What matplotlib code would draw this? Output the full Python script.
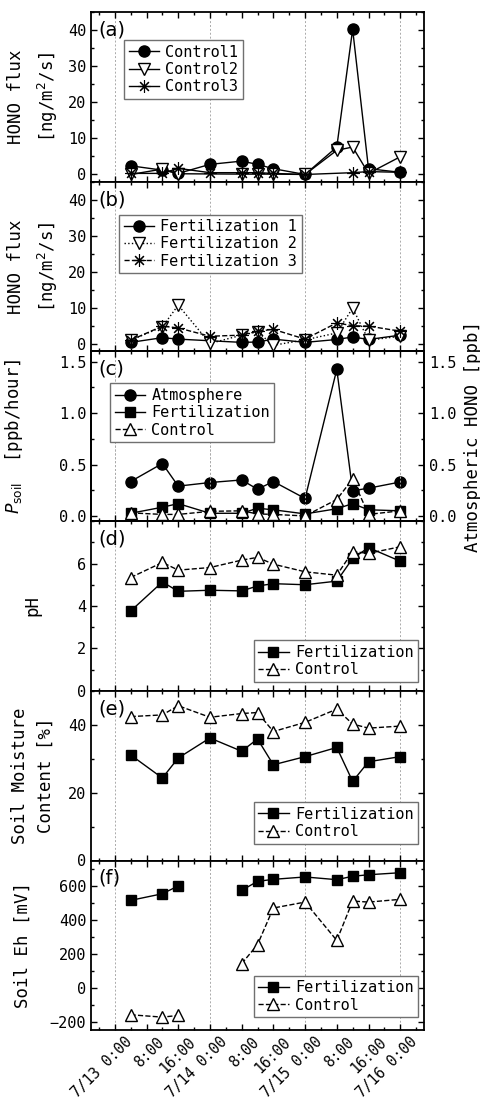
import numpy as np
import matplotlib
matplotlib.use("Agg")
import matplotlib.pyplot as plt
from matplotlib.ticker import MultipleLocator, FormatStrFormatter
from matplotlib.transforms import ScaledTranslation

plt.rcParams['font.family'] = ['DejaVu Sans Mono', 'DejaVu Sans']
plt.rcParams['mathtext.fontset'] = 'dejavusans'

# sampling times, hours after 7/13 0:00
hours = [4, 12, 16, 24, 32, 36, 40, 48, 56, 60, 64, 72]
nan = np.nan

# (a) control chambers, HONO flux [ng/m2/s]
control1 = [2.4, 1.2, 0.3, 2.8, 3.7, 2.8, 1.6, 0.0, 7.6, 40.2, 1.6, 0.6]
control2 = [0.0, 1.5, 0.2, nan, 0.1, 0.1, 0.1, 0.0, 6.7, 7.6, 0.3, 4.9]
control3 = [0.3, 0.3, 1.7, 0.5, 0.5, 0.5, 0.3, 0.0, nan, 0.5, 0.8, 0.6]

# (b) fertilized chambers
fert1 = [0.5, 1.8, 1.4, nan, 0.5, 0.6, 1.4, 0.5, 1.3, 2.0, 1.3, 2.5]
fert2 = [1.1, 4.8, 10.8, 0.2, 2.5, 3.4, -0.3, 1.2, 3.1, 10.0, 1.1, 2.2]
fert3 = [1.1, 5.0, 4.5, 2.2, 2.5, 3.6, 4.1, 1.4, 5.9, 5.1, 5.0, 3.6]

# (c) P_soil [ppb/hour] and atmospheric HONO [ppb]
atmos = [0.335, 0.51, 0.29, 0.325, 0.35, 0.26, 0.335, 0.17, 1.425, 0.245, 0.27, 0.33]
psoil_fert = [0.026, 0.085, 0.12, 0.026, 0.026, 0.075, 0.06, 0.02, 0.07, 0.12, 0.06, 0.05]
psoil_ctrl = [0.03, 0.015, 0.015, 0.045, 0.05, 0.02, 0.015, 0.0, 0.16, 0.36, 0.015, 0.05]

# (d) pH
ph_fert = [3.76, 5.13, 4.69, 4.74, 4.71, 4.94, 5.05, 5.0, 5.17, 6.24, 6.75, 6.11]
ph_ctrl = [5.34, 6.05, 5.69, 5.81, 6.16, 6.29, 5.97, 5.61, 5.45, 6.56, 6.48, 6.79]

# (e) soil moisture [%]
sm_fert = [31.1, 24.3, 30.2, 36.1, 32.2, 35.8, 28.2, 30.6, 33.3, 23.3, 29.1, 30.6]
sm_ctrl = [42.4, 42.9, 45.6, 42.2, 43.3, 43.6, 38.0, 40.7, 44.6, 40.2, 39.0, 39.6]

# (f) soil Eh [mV]
eh_fert = [515, 554, 600, nan, 574, 627, 639, 653, 637, 657, 666, 678]
eh_ctrl = [-159, -173, -163, nan, 142, 254, 470, 505, 279, 511, 505, 521]

xtick_pos = [0, 8, 16, 24, 32, 40, 48, 56, 64, 72]
xtick_lab = ['7/13 0:00', '8:00', '16:00', '7/14 0:00', '8:00', '16:00',
             '7/15 0:00', '8:00', '16:00', '7/16 0:00']

asterisk = (8, 2, 0)


def gap(x, y):
    x = np.array(x, float)
    y = np.array(y, float)
    ok = ~np.isnan(y)
    return x[ok], y[ok]


def style(ax, right=True):
    ax.set_xlim(-6, 78)
    ax.xaxis.set_major_locator(MultipleLocator(8))
    ax.xaxis.set_minor_locator(MultipleLocator(4))
    ax.tick_params(which='both', direction='in', top=True, right=right,
                   labelsize=11, width=1)
    ax.tick_params(which='major', length=4)
    ax.tick_params(which='minor', length=2.2)
    for s in ax.spines.values():
        s.set_linewidth(1.3)
    for v in [0, 24, 48, 72]:
        ax.axvline(v, color='#aaaaaa', lw=0.7, ls=(0, (2, 2)), zorder=0)


def legend(ax, **kw):
    lg = ax.legend(fancybox=False, framealpha=1, edgecolor='#707070',
                   fontsize=11, handlelength=2.0, handletextpad=0.4,
                   labelspacing=0.15, borderpad=0.3, borderaxespad=0, **kw)
    lg.get_frame().set_linewidth(1.0)
    return lg


fig = plt.figure(figsize=(4.81, 11.03), dpi=100)
L, W = 91 / 481, 333 / 481
H = 169.7 / 1103
axes = []
for i in range(6):
    top = 12 + i * 169.7
    b = 1 - (top + 169.7) / 1103
    axes.append(fig.add_axes([L, b, W, H]))
ax_a, ax_b, ax_c, ax_d, ax_e, ax_f = axes

mk = dict(color='black', lw=1, markersize=8)
sq = dict(color='black', lw=1, markersize=7)
ak = dict(color='black', lw=1, markersize=9, mew=0.8)
yl = dict(fontsize=12.5, linespacing=1.6)

# (a)
ax_a.plot(*gap(hours, control1), '-', marker='o', mfc='black', label='Control1', **mk)
ax_a.plot(*gap(hours, control2), '-', marker='v', mfc='white', label='Control2', **mk)
ax_a.plot(*gap(hours, control3), '-', marker=asterisk, label='Control3', **ak)
ax_a.set_ylim(-2, 45)
ax_a.yaxis.set_major_locator(MultipleLocator(10))
ax_a.yaxis.set_minor_locator(MultipleLocator(5))
ax_a.set_ylabel('HONO flux\n[ng/m$^2$/s]', **yl)
legend(ax_a, loc='upper left', bbox_to_anchor=(0.099, 0.835))

# (b)
ax_b.plot(*gap(hours, fert1), '-', marker='o', mfc='black', label='Fertilization 1', **mk)
ax_b.plot(*gap(hours, fert2), ':', marker='v', mfc='white', label='Fertilization 2', **mk)
ax_b.plot(*gap(hours, fert3), '--', marker=asterisk, label='Fertilization 3', **ak)
ax_b.set_ylim(-2, 45)
ax_b.yaxis.set_major_locator(MultipleLocator(10))
ax_b.yaxis.set_minor_locator(MultipleLocator(5))
ax_b.set_ylabel('HONO flux\n[ng/m$^2$/s]', **yl)
legend(ax_b, loc='upper left', bbox_to_anchor=(0.084, 0.806))

# (c)
ax_c2 = ax_c.twinx()
h1, = ax_c2.plot(hours, atmos, '-', marker='o', mfc='black', label='Atmosphere', **mk)
h2, = ax_c.plot(hours, psoil_fert, '-', marker='s', mfc='black', label='Fertilization', **sq)
h3, = ax_c.plot(hours, psoil_ctrl, '--', marker='^', mfc='white', label='Control', **mk)
for a in (ax_c, ax_c2):
    a.set_ylim(-0.05, 1.6)
    a.yaxis.set_major_locator(MultipleLocator(0.5))
    a.yaxis.set_minor_locator(MultipleLocator(0.25))
    a.yaxis.set_major_formatter(FormatStrFormatter('%.1f'))
ax_c.set_ylabel(r'$P_{\mathrm{soil}}$  [ppb/hour]', **yl)
ax_c2.set_ylabel('Atmospheric HONO [ppb]', **yl)
legend(ax_c, handles=[h1, h2, h3], loc='upper left', bbox_to_anchor=(0.057, 0.811))

# (d)
ax_d.plot(hours, ph_fert, '-', marker='s', mfc='black', label='Fertilization', **sq)
ax_d.plot(hours, ph_ctrl, '--', marker='^', mfc='white', label='Control', **mk)
ax_d.set_ylim(0, 8)
ax_d.set_yticks([0, 2, 4, 6])
ax_d.yaxis.set_minor_locator(MultipleLocator(1))
ax_d.set_ylabel('pH', **yl)
legend(ax_d, loc='lower right', bbox_to_anchor=(0.982, 0.053))

# (e)
ax_e.plot(hours, sm_fert, '-', marker='s', mfc='black', label='Fertilization', **sq)
ax_e.plot(hours, sm_ctrl, '--', marker='^', mfc='white', label='Control', **mk)
ax_e.set_ylim(0, 50)
ax_e.set_yticks([0, 20, 40])
ax_e.yaxis.set_minor_locator(MultipleLocator(10))
ax_e.set_ylabel('Soil Moisture\nContent [%]', **yl)
legend(ax_e, loc='lower right', bbox_to_anchor=(0.982, 0.1))

# (f)
ax_f.plot(hours, eh_fert, '-', marker='s', mfc='black', label='Fertilization', **sq)
ax_f.plot(hours, eh_ctrl, '--', marker='^', mfc='white', label='Control', **mk)
ax_f.set_ylim(-250, 750)
ax_f.set_yticks([-200, 0, 200, 400, 600])
ax_f.yaxis.set_minor_locator(MultipleLocator(100))
ax_f.set_ylabel('Soil Eh [mV]', **yl)
legend(ax_f, loc='lower right', bbox_to_anchor=(0.982, 0.077))

for a in axes:
    style(a, right=(a is not ax_c))
style(ax_c2)
ax_c.tick_params(which='both', right=False)
ax_c2.tick_params(which='both', left=False, top=True)
ax_c.set_zorder(ax_c2.get_zorder() + 1)
ax_c.patch.set_visible(False)

for a, xc in zip(axes, [-0.093, -0.093, -0.198, -0.15, -0.108, -0.177]):
    a.set_xticks(xtick_pos)
    a.yaxis.set_label_coords(xc, 0.5)
    if a is not ax_f:
        a.tick_params(labelbottom=False)
ax_f.set_xticklabels(xtick_lab, rotation=45, ha='right', rotation_mode='anchor',
                     fontsize=10.5)
ax_f.tick_params(axis='x', pad=3)
shift = ScaledTranslation(7 / 72, 0, fig.dpi_scale_trans)
for lab in ax_f.get_xticklabels():
    lab.set_transform(lab.get_transform() + shift)
ax_c2.yaxis.set_label_coords(1.12, 0.5)

for a, t in zip(axes, 'abcdef'):
    a.text(0.022, 0.95, '(%s)' % t, transform=a.transAxes, fontsize=14,
           ha='left', va='top', family='DejaVu Sans')

fig.savefig('out.png', dpi=100)
